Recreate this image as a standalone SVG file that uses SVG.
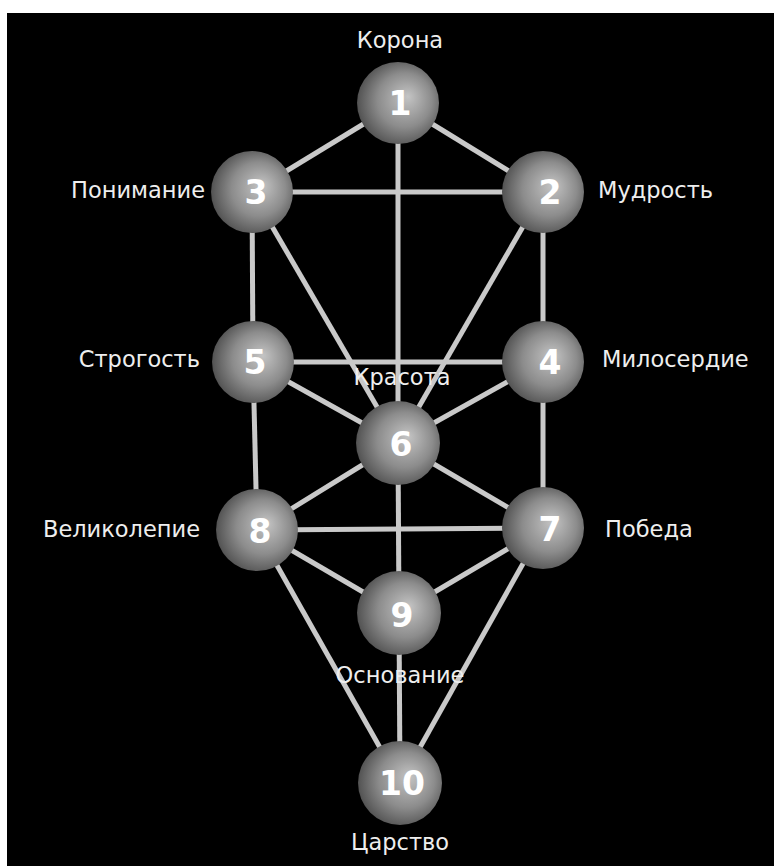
<svg xmlns="http://www.w3.org/2000/svg" width="774" height="866" viewBox="0 0 774 866">
<style>
.lbl{font-family:"DejaVu Sans","Liberation Sans",sans-serif;font-size:22.5px;fill:#eeeeee}
.num{font-family:"DejaVu Sans","Liberation Sans",sans-serif;font-size:33px;font-weight:bold;fill:#ffffff;text-anchor:middle}
.ball{fill:url(#sph)}
#links line{stroke:#c9c9c9;stroke-width:5;stroke-linecap:butt}
</style>
<defs>
<radialGradient id="sph" cx="0.55" cy="0.5" r="0.6" fx="0.62" fy="0.42">
<stop offset="0" stop-color="#c4c4c4"/>
<stop offset="0.55" stop-color="#8c8c8c"/>
<stop offset="0.9" stop-color="#565656"/>
<stop offset="1" stop-color="#333333"/>
</radialGradient>
</defs>
<rect x="0" y="0" width="774" height="866" fill="#ffffff"/>
<rect x="7" y="13" width="767" height="853" fill="#000000"/>
<g id="links">
<line x1="398" y1="103" x2="252" y2="192"/>
<line x1="398" y1="103" x2="543" y2="192"/>
<line x1="398" y1="103" x2="398" y2="443"/>
<line x1="252" y1="192" x2="543" y2="192"/>
<line x1="252" y1="192" x2="253" y2="362"/>
<line x1="252" y1="192" x2="398" y2="443"/>
<line x1="543" y1="192" x2="543" y2="362"/>
<line x1="543" y1="192" x2="398" y2="443"/>
<line x1="253" y1="362" x2="543" y2="362"/>
<line x1="253" y1="362" x2="398" y2="443"/>
<line x1="543" y1="362" x2="398" y2="443"/>
<line x1="253" y1="362" x2="257" y2="530"/>
<line x1="543" y1="362" x2="543" y2="528"/>
<line x1="398" y1="443" x2="257" y2="530"/>
<line x1="398" y1="443" x2="543" y2="528"/>
<line x1="398" y1="443" x2="399" y2="613"/>
<line x1="257" y1="530" x2="543" y2="528"/>
<line x1="257" y1="530" x2="399" y2="613"/>
<line x1="543" y1="528" x2="399" y2="613"/>
<line x1="257" y1="530" x2="400" y2="783"/>
<line x1="543" y1="528" x2="400" y2="783"/>
<line x1="399" y1="613" x2="400" y2="783"/>
</g>
<g id="n1"><circle class="ball" cx="398" cy="103" r="41"/><text class="num" x="400" y="115">1</text><text class="lbl" x="400" y="48" text-anchor="middle">Корона</text></g>
<g id="n2"><circle class="ball" cx="543" cy="192" r="41"/><text class="num" x="550" y="204">2</text><text class="lbl" x="598" y="198">Мудрость</text></g>
<g id="n3"><circle class="ball" cx="252" cy="192" r="41"/><text class="num" x="256" y="204">3</text><text class="lbl" x="205" y="198" text-anchor="end">Понимание</text></g>
<g id="n4"><circle class="ball" cx="543" cy="362" r="41"/><text class="num" x="550" y="374">4</text><text class="lbl" x="602" y="367">Милосердие</text></g>
<g id="n5"><circle class="ball" cx="253" cy="362" r="41"/><text class="num" x="255" y="374">5</text><text class="lbl" x="200" y="367" text-anchor="end">Строгость</text></g>
<g id="n6"><circle class="ball" cx="398" cy="443" r="42"/><text class="num" x="401" y="456">6</text><text class="lbl" x="402" y="385" text-anchor="middle">Красота</text></g>
<g id="n7"><circle class="ball" cx="543" cy="528" r="41"/><text class="num" x="550" y="541">7</text><text class="lbl" x="605" y="537">Победа</text></g>
<g id="n8"><circle class="ball" cx="257" cy="530" r="41"/><text class="num" x="260" y="543">8</text><text class="lbl" x="200" y="537" text-anchor="end">Великолепие</text></g>
<g id="n9"><circle class="ball" cx="399" cy="613" r="42"/><text class="num" x="402" y="627">9</text><text class="lbl" x="400" y="683" text-anchor="middle">Основание</text></g>
<g id="n10"><circle class="ball" cx="400" cy="783" r="42"/><text class="num" x="402" y="795">10</text><text class="lbl" x="400" y="850" text-anchor="middle">Царство</text></g>
</svg>
